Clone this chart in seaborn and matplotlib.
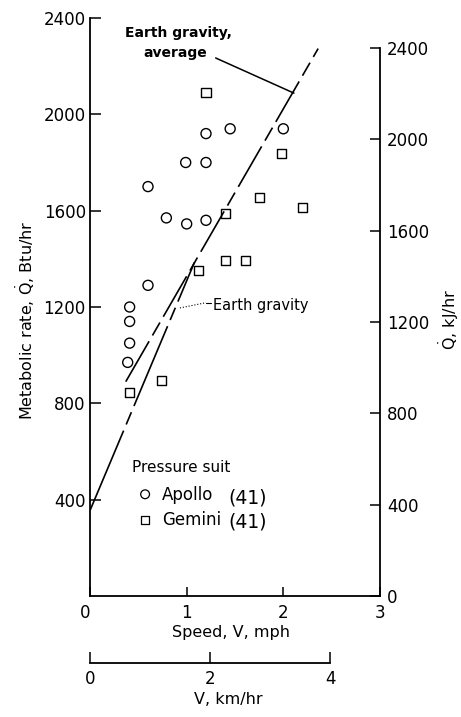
import matplotlib
matplotlib.use("Agg")
import matplotlib.pyplot as plt
import seaborn as sns

# Metabolic rate while walking in pressure suits (speed in mph, rate in Btu/hr)
apollo_speed = [0.41, 0.41, 0.41, 0.39, 0.60, 0.60, 0.79, 1.00, 0.99, 1.20, 1.20, 1.20, 1.45, 2.00]
apollo_rate = [1200, 1140, 1050, 970, 1700, 1290, 1570, 1545, 1800, 1560, 1800, 1920, 1940, 1940]
gemini_speed = [0.41, 0.74, 1.12, 1.20, 1.40, 1.40, 1.61, 1.75, 1.98, 2.20]
gemini_rate = [845, 895, 1350, 2090, 1590, 1395, 1393, 1653, 1838, 1612]

# Reference lines for walking in Earth gravity
gravity_speed = [0.0, 1.08]
gravity_rate = [355, 1385]
average_speed = [0.37, 2.36]
average_rate = [890, 2273]

# Axis ticks
mph_ticks = [0, 1, 2, 3]
btu_ticks = [400, 800, 1200, 1600, 2000, 2400]
kj_ticks = [0, 400, 800, 1200, 1600, 2000, 2400]
kmh_ticks = [0, 2, 4]

BTU_TO_KJ = 1.055
MPH_TO_KMH = 1.609

sns.set_style("ticks")
plt.rcParams["font.family"] = ["DejaVu Sans"]
plt.rcParams["mathtext.fontset"] = "dejavusans"
for key in ("text.color", "axes.labelcolor", "xtick.color", "ytick.color",
            "axes.edgecolor"):
    plt.rcParams[key] = "black"

W, H = 461, 717
fig = plt.figure(figsize=(W / 100, H / 100), dpi=100)


def fig_xy(px, py):
    return px / W, 1 - py / H


ax = fig.add_axes([90 / W, 121 / H, 290 / W, 578 / H])

sns.lineplot(x=gravity_speed, y=gravity_rate, ax=ax, color="black",
             linewidth=1.2, linestyle=(0, (52, 4, 8, 4)))
sns.lineplot(x=average_speed, y=average_rate, ax=ax, color="black",
             linewidth=1.2, linestyle=(0, (28, 4, 9, 4)))
sns.scatterplot(x=apollo_speed, y=apollo_rate, ax=ax, marker="o", s=52,
                facecolor="none", edgecolor="black", linewidth=1.0, zorder=3)
sns.scatterplot(x=gemini_speed, y=gemini_rate, ax=ax, marker="s", s=42,
                facecolor="none", edgecolor="black", linewidth=1.0, zorder=3)

ax.set_xlim(0, 3)
ax.set_ylim(0, 2400)
ax.set_xticks(mph_ticks)
ax.set_xticklabels([str(t) for t in mph_ticks])
ax.get_xticklabels()[0].set_ha("right")
ax.set_yticks(btu_ticks)
ax.set_yticklabels([str(t) for t in btu_ticks])
ax.tick_params(axis="y", direction="in", length=8, width=1.1, pad=3, labelsize=12)
ax.tick_params(axis="x", direction="in", length=6.5, width=1.1, pad=6, labelsize=12)
sns.despine(ax=ax, top=True, right=True)
for side in ("left", "bottom"):
    ax.spines[side].set_linewidth(1.3)
    ax.spines[side].set_color("black")

ax.set_ylabel(r"Metabolic rate, $\dot{\mathrm{Q}}$, Btu/hr", fontsize=11.5)
ax.yaxis.set_label_coords(*fig_xy(25, 320), transform=fig.transFigure)
ax.yaxis.label.set_va("center")
ax.set_xlabel("Speed, V, mph", fontsize=11.5)
ax.xaxis.set_label_coords(*fig_xy(231, 633), transform=fig.transFigure)
ax.xaxis.label.set_va("center")

# Right axis in kJ/hr
ax2 = ax.twinx()
ax2.set_ylim(0, 2400 * BTU_TO_KJ)
ax2.set_yticks(kj_ticks)
ax2.set_yticklabels([str(t) for t in kj_ticks])
ax2.tick_params(axis="y", direction="in", length=7, width=1.1, pad=5, labelsize=12)
for side in ("left", "top", "bottom"):
    ax2.spines[side].set_visible(False)
ax2.spines["right"].set_bounds(0, 2400)
ax2.spines["right"].set_linewidth(1.3)
ax2.spines["right"].set_color("black")
ax2.set_ylabel(r"$\dot{\mathrm{Q}}$, kJ/hr", fontsize=11.5)
ax2.yaxis.set_label_coords(*fig_xy(449, 320), transform=fig.transFigure)
ax2.yaxis.label.set_va("center")

# Secondary speed scale in km/hr
axk = fig.add_axes([90 / W, 1 - 663 / H, 290 / W, 0.0005])
axk.set_xlim(0, 3 * MPH_TO_KMH)
axk.set_xticks(kmh_ticks)
axk.set_xticklabels([str(t) for t in kmh_ticks])
axk.set_yticks([])
axk.patch.set_visible(False)
for side in ("left", "top", "right"):
    axk.spines[side].set_visible(False)
axk.spines["bottom"].set_bounds(0, 4)
axk.spines["bottom"].set_linewidth(1.3)
axk.spines["bottom"].set_color("black")
axk.tick_params(axis="x", direction="in", length=8, width=1.1, pad=5, labelsize=12)
axk.set_xlabel("V, km/hr", fontsize=11.5)
axk.xaxis.set_label_coords(*fig_xy(228, 700), transform=fig.transFigure)
axk.xaxis.label.set_va("center")

# Line annotations
ax.text(0.92, 2338, "Earth gravity,", fontsize=10, fontweight="bold",
        ha="center", va="center")
ax.text(0.88, 2255, "average", fontsize=10, fontweight="bold",
        ha="center", va="center")
ax.plot([1.30, 2.11], [2234, 2088], color="black", linewidth=1.1)

ax.plot([0.93, 1.20], [1196, 1218], color="black", linewidth=0.8, linestyle=":")
ax.plot([1.20, 1.25], [1218, 1218], color="black", linewidth=0.8)
ax.text(1.27, 1208, "Earth gravity", fontsize=10.5, ha="left", va="center")

# Legend for suit type
fig.text(*fig_xy(132, 467), "Pressure suit", fontsize=11, ha="left", va="center")
ax.scatter([0.19], [0.176], transform=ax.transAxes, marker="o", s=40,
           facecolor="none", edgecolor="black", linewidth=0.9, clip_on=False)
ax.scatter([0.19], [0.131], transform=ax.transAxes, marker="s", s=32,
           facecolor="none", edgecolor="black", linewidth=0.9, clip_on=False)
fig.text(*fig_xy(162, 495), "Apollo", fontsize=12, ha="left", va="center")
fig.text(*fig_xy(162, 520), "Gemini", fontsize=12, ha="left", va="center")
fig.text(*fig_xy(228, 498), "(41)", fontsize=13.5, ha="left", va="center")
fig.text(*fig_xy(228, 522), "(41)", fontsize=13.5, ha="left", va="center")

fig.savefig("out.png", dpi=100)
